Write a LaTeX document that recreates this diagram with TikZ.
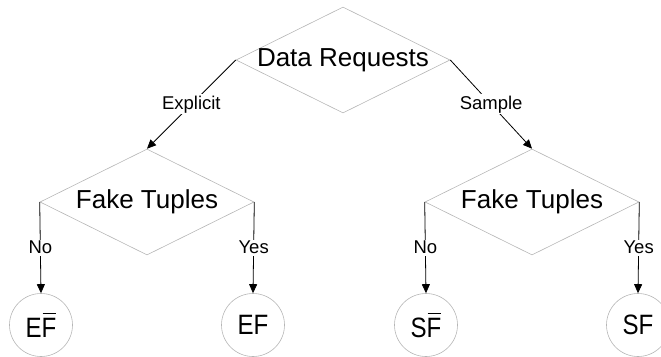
\documentclass[tikz,border=0pt]{standalone}
\usepackage{fontspec}
\setmainfont{Liberation Sans}
\usetikzlibrary{shapes.geometric,arrows.meta}
\definecolor{shapegray}{RGB}{182,182,182}
\tikzset{
  decision/.style={shape=diamond, draw=shapegray, line width=0.6pt,
    minimum width=214pt, minimum height=106pt, inner sep=0pt},
  outcome/.style={shape=circle, draw=shapegray, line width=0.6pt,
    minimum size=63pt, inner sep=0pt, font=\fontsize{28}{30}\selectfont},
  bigtext/.style={font=\fontsize{26}{28}\selectfont},
  flow/.style={draw=black, line width=0.8pt, -{Triangle[length=9pt,width=8pt]}},
  edgelabel/.style={fill=white, inner sep=1.5pt, font=\fontsize{18.5}{20}\selectfont},
}
% condensed outcome text and a barred F
\newsavebox\letterFbox
\newcommand{\narrow}[1]{\scalebox{0.86}[1]{#1}}
\newcommand{\negF}{\sbox\letterFbox{F}\rlap{\hspace{0.04em}\rule[0.83em]{\dimexpr\wd\letterFbox-0.06em\relax}{1.3pt}}\usebox\letterFbox}
\begin{document}
\begin{tikzpicture}[x=1pt, y=-1pt]
  \useasboundingbox (0,0) rectangle (661,356);
  \clip (0,0) rectangle (661,356);

  % decision diamonds
  \node[decision, label={[bigtext]center:Data Requests}] (req) at (343,60) {};
  \node[decision, label={[bigtext]center:Fake Tuples}] (fakeE) at (147,202) {};
  \node[decision, label={[bigtext]center:Fake Tuples}] (fakeS) at (532,202) {};

  % outcomes
  \node[outcome] (ENF) at (41,325) {\narrow{E\negF}};
  \node[outcome] (EF)  at (253,325) {\narrow{EF}};
  \node[outcome] (SNF) at (426,325) {\narrow{S\negF}};
  \node[outcome] (SF)  at (638,325) {\narrow{SF}};

  % connectors
  \draw[flow] (req.west) -- node[edgelabel] {Explicit} (fakeE.north);
  \draw[flow] (req.east) -- node[edgelabel] {Sample} (fakeS.north);
  \draw[flow] (fakeE.west) -- node[edgelabel] {No} (ENF.north);
  \draw[flow] (fakeE.east) -- node[edgelabel] {Yes} (EF.north);
  \draw[flow] (fakeS.west) -- node[edgelabel] {No} (SNF.north);
  \draw[flow] (fakeS.east) -- node[edgelabel] {Yes} (SF.north);
\end{tikzpicture}
\end{document}
